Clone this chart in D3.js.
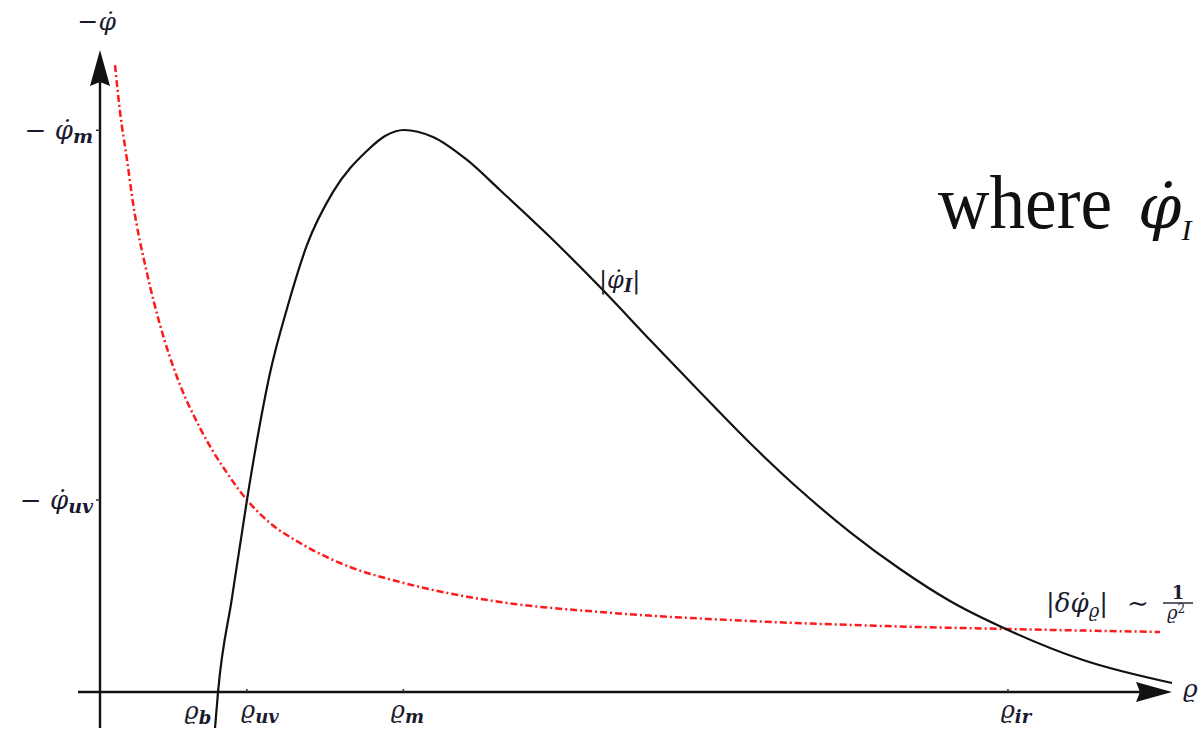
<!DOCTYPE html>
<html>
<head>
<meta charset="utf-8">
<script src="https://cdn.jsdelivr.net/npm/d3@7"></script>
<style>
  html, body { margin: 0; padding: 0; background: #fff; }
  svg { display: block; }
  .math { font-family: "DejaVu Serif", serif; font-style: italic; fill: #1a1a2e; }
  .sub { font-weight: bold; }
</style>
</head>
<body>
<div id="chart"></div>
<script>
// |phi_I| curve (rho, value)
const phiIRho = [10.73, 11.01, 12.31, 13.71, 14.65, 15.86, 17.54, 19.31, 21.74, 24.91, 26.59,
    28.36, 31.06, 34.24, 37.31, 41.98, 46.64, 51.31, 55.97, 60.63, 65.30, 69.96, 74.63,
    79.29, 84.70, 91.70, 100.0];
const phiIVal = [-5.61, 0, 14.64, 29.91, 39.25, 49.69, 60.28, 69.63, 77.90, 84.30, 86.60,
    87.54, 86.45, 82.87, 78.19, 70.87, 63.08, 54.83, 46.73, 38.79, 31.46, 24.92, 19.16,
    14.17, 9.66, 4.98, 1.40];

// |delta phi_rho| ~ 1/rho^2 curve
const dPhiRho = [1.40, 1.87, 2.52, 3.08, 4.38, 5.60, 7.18, 9.33, 11.85, 13.71, 15.86,
    18.66, 23.32, 27.99, 37.31, 46.64, 60.63, 73.04, 84.70, 98.88];
const dPhiVal = [97.66, 90.34, 82.87, 76.17, 65.26, 57.17, 49.07, 41.12, 34.11, 29.91, 26.32,
    23.21, 19.47, 17.13, 14.02, 12.46, 11.06, 10.28, 9.81, 9.35];

// tick positions and their subscripts
const rhoTicks = [11.0, 13.7, 28.3, 84.7];
const rhoTickSubs = ["b", "uv", "m", "ir"];
const phiTicks = [87.5, 29.9];
const phiTickSubs = ["m", "uv"];

const width = 1201;
const height = 732;

const svg = d3.select("#chart")
    .append("svg")
    .attr("width", width)
    .attr("height", height);

const x = d3.scaleLinear().domain([0, 100]).range([100, 1172]);
const y = d3.scaleLinear().domain([0, 100]).range([692, 50]);

const x0 = x(0), y0 = y(0);

// axes
svg.append("line")
    .attr("x1", x0).attr("x2", x0)
    .attr("y1", 728).attr("y2", y(100) + 30)
    .style("stroke", "#111").style("stroke-width", 2.4);
svg.append("path")
    .attr("d", `M${x0},${y(100)} L${x0 + 10},${y(100) + 36} L${x0},${y(100) + 32} L${x0 - 10},${y(100) + 36} Z`)
    .style("fill", "#111");

svg.append("line")
    .attr("x1", 78).attr("x2", x(100) - 30)
    .attr("y1", y0).attr("y2", y0)
    .style("stroke", "#111").style("stroke-width", 2.4);
svg.append("path")
    .attr("d", `M${x(100)},${y0} L${x(100) - 36},${y0 - 10} L${x(100) - 32},${y0} L${x(100) - 36},${y0 + 10} Z`)
    .style("fill", "#111");

// tiny tick marks
svg.selectAll(".xt")
    .data(rhoTicks)
    .enter()
    .append("line")
    .attr("x1", (d) => x(d)).attr("x2", (d) => x(d))
    .attr("y1", y0 - 3).attr("y2", y0)
    .style("stroke", "#333").style("stroke-width", 1.5);
svg.selectAll(".yt")
    .data(phiTicks)
    .enter()
    .append("line")
    .attr("x1", x0 - 4).attr("x2", x0)
    .attr("y1", (d) => y(d)).attr("y2", (d) => y(d))
    .style("stroke", "#333").style("stroke-width", 1.5);

// curves
const line = d3.line()
    .x((d) => x(d[0]))
    .y((d) => y(d[1]))
    .curve(d3.curveMonotoneX);

svg.append("path")
    .datum(d3.zip(dPhiRho, dPhiVal))
    .attr("d", line)
    .style("fill", "none")
    .style("stroke", "#ff1a1a")
    .style("stroke-width", 2.5)
    .style("stroke-dasharray", "7,3,2,3");

svg.append("path")
    .datum(d3.zip(phiIRho, phiIVal))
    .attr("d", line)
    .style("fill", "none")
    .style("stroke", "#111")
    .style("stroke-width", 2.2);

// x tick labels (small nudges so they sit like the original)
const rhoLabelNudge = { b: [-20, 1], uv: [13, 0], m: [4, 0], ir: [8, 0] };
rhoTicks.forEach((v, i) => {
    const s = rhoTickSubs[i];
    const t = svg.append("text")
        .attr("class", "math")
        .attr("x", x(v) + rhoLabelNudge[s][0])
        .attr("y", 718 + rhoLabelNudge[s][1])
        .attr("text-anchor", "middle")
        .style("font-size", "24px");
    t.append("tspan").text("ϱ");
    t.append("tspan").attr("class", "sub").attr("dy", 5).style("font-size", "18px").text(s);
});

// y tick labels
phiTicks.forEach((v, i) => {
    const t = svg.append("text")
        .attr("class", "math")
        .attr("x", 93)
        .attr("y", y(v) + 9)
        .attr("text-anchor", "end")
        .style("font-size", "26px");
    t.append("tspan").style("font-style", "normal").text("− ");
    t.append("tspan").text("φ̇");
    t.append("tspan").attr("class", "sub").attr("dy", 4).style("font-size", "19px").text(phiTickSubs[i]);
});

// axis names
svg.append("text")
    .attr("class", "math")
    .attr("x", 116).attr("y", 30)
    .attr("text-anchor", "end")
    .style("font-size", "25px")
    .call((t) => {
        t.append("tspan").style("font-style", "normal").text("−");
        t.append("tspan").text("φ̇");
    });
svg.append("text")
    .attr("class", "math")
    .attr("x", 1183).attr("y", 697)
    .style("font-size", "25px")
    .text("ϱ");

// curve labels
svg.append("text")
    .attr("class", "math")
    .attr("x", 599).attr("y", 288)
    .style("font-size", "24px")
    .call((t) => {
        t.append("tspan").style("font-style", "normal").text("|");
        t.append("tspan").text("φ̇");
        t.append("tspan").attr("class", "sub").attr("dy", 4).style("font-size", "18px").text("I");
        t.append("tspan").attr("dy", -4).style("font-style", "normal").text("|");
    });

svg.append("text")
    .attr("class", "math")
    .attr("x", 1046).attr("y", 612)
    .style("font-size", "26px")
    .call((t) => {
        t.append("tspan").style("font-style", "normal").text("|");
        t.append("tspan").text("δφ̇");
        t.append("tspan").attr("dy", 5).style("font-size", "18px").text("ϱ");
        t.append("tspan").attr("dy", -5).style("font-style", "normal").text("|");
        t.append("tspan").attr("x", 1127).style("font-style", "normal").text("∼");
    });
svg.append("text")
    .attr("class", "math")
    .attr("x", 1178).attr("y", 599)
    .attr("text-anchor", "middle")
    .style("font-size", "18px")
    .style("font-style", "normal")
    .style("font-weight", "bold")
    .text("1");
svg.append("line")
    .attr("x1", 1163).attr("x2", 1193)
    .attr("y1", 603).attr("y2", 603)
    .style("stroke", "#1a1a2e").style("stroke-width", 1.4);
svg.append("text")
    .attr("class", "math")
    .attr("x", 1176).attr("y", 619)
    .attr("text-anchor", "middle")
    .style("font-size", "18px")
    .call((t) => {
        t.append("tspan").text("ϱ");
        t.append("tspan").attr("dy", -6).style("font-size", "12px").style("font-style", "normal").text("2");
    });

// leftover text of the surrounding page
svg.append("text")
    .attr("x", 938).attr("y", 228)
    .style("font-family", "'Liberation Serif', serif")
    .style("font-size", "77px")
    .style("fill", "#111")
    .call((t) => {
        t.append("tspan").attr("textLength", 174).attr("lengthAdjust", "spacingAndGlyphs").text("where");
        t.append("tspan").attr("x", 1138).style("font-family", "'DejaVu Serif', serif").style("font-style", "italic").style("font-size", "62px").text("φ̇");
        t.append("tspan").attr("dy", 12).style("font-style", "italic").style("font-size", "30px").text("I");
    });
</script>
</body>
</html>
